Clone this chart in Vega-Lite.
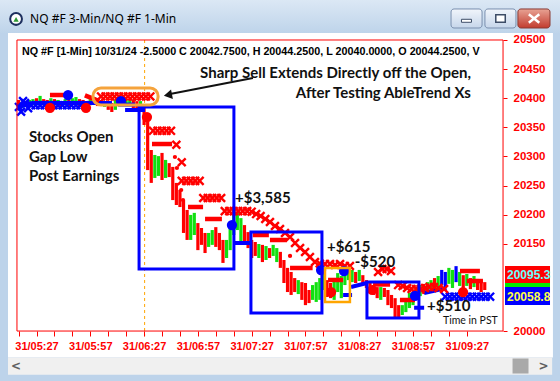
{
  "$schema": "https://vega.github.io/schema/vega-lite/v6.json",
  "width": 560,
  "height": 381,
  "autosize": {"type": "none"},
  "padding": 0,
  "background": "#bdd3ea",
  "config": {"view": {"stroke": null}},
  "datasets": {
    "bars": [
      {"t":317,"p":20397,"p2":20380,"d":"down"},{"t":319,"p":20393.5,"p2":20383,"d":"up"},{"t":321,"p":20395,"p2":20385,"d":"down"},{"t":323,"p":20397,"p2":20386.5,"d":"up"},
      {"t":325,"p":20398.5,"p2":20388,"d":"up"},{"t":327,"p":20400,"p2":20390,"d":"down"},{"t":329,"p":20404,"p2":20390,"d":"up"},{"t":331,"p":20398.5,"p2":20388,"d":"down"},
      {"t":333,"p":20397,"p2":20386.5,"d":"down"},{"t":335,"p":20400,"p2":20390,"d":"up"},{"t":337,"p":20398.5,"p2":20388,"d":"down"},{"t":339,"p":20397,"p2":20386.5,"d":"up"},
      {"t":341,"p":20395,"p2":20385,"d":"down"},{"t":343,"p":20398.5,"p2":20388,"d":"up"},{"t":345,"p":20397,"p2":20386.5,"d":"down"},{"t":347,"p":20400,"p2":20390,"d":"up"},
      {"t":349,"p":20402,"p2":20390,"d":"up"},{"t":351,"p":20398.5,"p2":20386.5,"d":"down"},{"t":353,"p":20397,"p2":20385,"d":"down"},{"t":355,"p":20395,"p2":20383,"d":"down"},
      {"t":357,"p":20398.5,"p2":20388,"d":"up"},{"t":359,"p":20402,"p2":20390,"d":"up"},{"t":361,"p":20400,"p2":20386.5,"d":"down"},{"t":363,"p":20397,"p2":20386.5,"d":"down"},
      {"t":365,"p":20395,"p2":20385,"d":"up"},{"t":367,"p":20395,"p2":20380,"d":"down"},{"t":369,"p":20391.75,"p2":20376.25,"d":"down"},{"t":371,"p":20397,"p2":20380,"d":"up"},
      {"t":373,"p":20402,"p2":20388,"d":"up"},{"t":375,"p":20400,"p2":20388,"d":"down"},{"t":377,"p":20398.5,"p2":20386.5,"d":"up"},{"t":379,"p":20397,"p2":20386.5,"d":"up"},
      {"t":381,"p":20397,"p2":20383,"d":"down"},{"t":383,"p":20395,"p2":20380,"d":"down"},{"t":385,"p":20395,"p2":20380,"d":"up"},{"t":387,"p":20386.5,"p2":20354,"d":"down"},
      {"t":389,"p":20371,"p2":20276.5,"d":"down"},{"t":391,"p":20311,"p2":20254.5,"d":"down"},{"t":393,"p":20302.5,"p2":20263,"d":"up"},{"t":395,"p":20300.5,"p2":20266.5,"d":"up"},
      {"t":397,"p":20306,"p2":20259.5,"d":"down"},{"t":399,"p":20294,"p2":20263,"d":"up"},{"t":401,"p":20288.5,"p2":20264.5,"d":"down"},{"t":403,"p":20282,"p2":20225,"d":"down"},
      {"t":405,"p":20254.5,"p2":20216.5,"d":"down"},{"t":407,"p":20242.5,"p2":20213,"d":"down"},{"t":409,"p":20225,"p2":20168.5,"d":"down"},{"t":411,"p":20208,"p2":20156.5,"d":"down"},
      {"t":413,"p":20199.5,"p2":20156.5,"d":"up"},{"t":415,"p":20203,"p2":20165,"d":"up"},{"t":417,"p":20185.5,"p2":20139,"d":"down"},{"t":419,"p":20177,"p2":20148,"d":"down"},
      {"t":421,"p":20168.5,"p2":20134,"d":"down"},{"t":423,"p":20168.5,"p2":20144.5,"d":"up"},{"t":425,"p":20173.5,"p2":20148,"d":"up"},{"t":427,"p":20178.5,"p2":20144.5,"d":"down"},
      {"t":429,"p":20168.5,"p2":20139,"d":"down"},{"t":431,"p":20156.5,"p2":20117,"d":"down"},{"t":433,"p":20156.5,"p2":20125.5,"d":"up"},{"t":435,"p":20177,"p2":20139,"d":"up"},
      {"t":437,"p":20199.5,"p2":20165,"d":"up"},{"t":439,"p":20203,"p2":20173.5,"d":"up"},{"t":441,"p":20194,"p2":20153,"d":"up"},{"t":443,"p":20182,"p2":20148,"d":"down"},
      {"t":445,"p":20170,"p2":20142.5,"d":"down"},{"t":447,"p":20156.5,"p2":20125.5,"d":"down"},{"t":449,"p":20153,"p2":20129,"d":"down"},{"t":451,"p":20149.5,"p2":20125.5,"d":"up"},
      {"t":453,"p":20148,"p2":20118.5,"d":"down"},{"t":455,"p":20146,"p2":20122,"d":"up"},{"t":457,"p":20142.5,"p2":20125.5,"d":"down"},{"t":459,"p":20148,"p2":20129,"d":"up"},
      {"t":461,"p":20142.5,"p2":20118.5,"d":"up"},{"t":463,"p":20136,"p2":20108.5,"d":"down"},{"t":465,"p":20122,"p2":20082.5,"d":"down"},{"t":467,"p":20108.5,"p2":20067,"d":"down"},
      {"t":469,"p":20101.5,"p2":20062,"d":"down"},{"t":471,"p":20091,"p2":20067,"d":"down"},{"t":473,"p":20087.5,"p2":20063.5,"d":"up"},{"t":475,"p":20084,"p2":20053.5,"d":"down"},
      {"t":477,"p":20082.5,"p2":20044.5,"d":"down"},{"t":479,"p":20070.5,"p2":20048,"d":"down"},{"t":481,"p":20079,"p2":20053.5,"d":"up"},{"t":483,"p":20084,"p2":20050,"d":"up"},
      {"t":485,"p":20091,"p2":20053.5,"d":"up"},{"t":487,"p":20099.5,"p2":20070.5,"d":"up"},{"t":489,"p":20087.5,"p2":20058.5,"d":"down"},{"t":491,"p":20082.5,"p2":20056.5,"d":"down"},
      {"t":493,"p":20091,"p2":20053.5,"d":"up"},{"t":495,"p":20099.5,"p2":20067,"d":"up"},{"t":497,"p":20094.5,"p2":20056.5,"d":"up"},{"t":499,"p":20105,"p2":20079,"d":"up"},
      {"t":501,"p":20108.5,"p2":20087.5,"d":"up"},{"t":503,"p":20105,"p2":20084,"d":"up"},{"t":505,"p":20101.5,"p2":20082.5,"d":"down"},{"t":507,"p":20105,"p2":20086,"d":"up"},
      {"t":509,"p":20096,"p2":20079,"d":"down"},{"t":511,"p":20087.5,"p2":20074,"d":"down"},{"t":513,"p":20082.5,"p2":20065.5,"d":"down"},{"t":515,"p":20079,"p2":20062,"d":"down"},
      {"t":517,"p":20075.5,"p2":20056.5,"d":"down"},{"t":519,"p":20075.5,"p2":20053.5,"d":"up"},{"t":521,"p":20074,"p2":20058.5,"d":"down"},{"t":523,"p":20070.5,"p2":20044.5,"d":"down"},
      {"t":525,"p":20062,"p2":20039.5,"d":"down"},{"t":527,"p":20056.5,"p2":20024,"d":"down"},{"t":529,"p":20044.5,"p2":20022.5,"d":"down"},{"t":531,"p":20044.5,"p2":20027.5,"d":"up"},
      {"t":533,"p":20053.5,"p2":20032.5,"d":"up"},{"t":535,"p":20065.5,"p2":20039.5,"d":"up"},{"t":537,"p":20067,"p2":20044.5,"d":"up"},{"t":539,"p":20075.5,"p2":20056.5,"d":"up"},
      {"t":541,"p":20079,"p2":20060,"d":"up"},{"t":543,"p":20081,"p2":20063.5,"d":"down"},{"t":545,"p":20084,"p2":20067,"d":"up"},{"t":547,"p":20087.5,"p2":20070.5,"d":"up"},
      {"t":549,"p":20091,"p2":20072,"d":"down"},{"t":551,"p":20094.5,"p2":20074,"d":"up"},{"t":553,"p":20105,"p2":20079,"d":"trend"},{"t":555,"p":20101.5,"p2":20075.5,"d":"trend"},
      {"t":557,"p":20108.5,"p2":20081,"d":"up"},{"t":559,"p":20105,"p2":20074,"d":"up"},{"t":561,"p":20111.5,"p2":20084,"d":"trend"},{"t":563,"p":20101.5,"p2":20077.5,"d":"up"},
      {"t":565,"p":20096,"p2":20074,"d":"down"},{"t":567,"p":20098,"p2":20077.5,"d":"up"},{"t":569,"p":20091,"p2":20072,"d":"down"},{"t":571,"p":20094.5,"p2":20075.5,"d":"up"},
      {"t":573,"p":20089.5,"p2":20070.5,"d":"down"},{"t":575,"p":20087.5,"p2":20067,"d":"down"},{"t":577,"p":20084,"p2":20070.5,"d":"down"}
    ],
    "marks": [
      {"t":363,"p":20403,"k":"sx"},{"t":365.5,"p":20403,"k":"sx"},{"t":368,"p":20403,"k":"sx"},{"t":370.5,"p":20403,"k":"sx"},{"t":373,"p":20403,"k":"sx"},{"t":375.5,"p":20403,"k":"sx"},{"t":378,"p":20403,"k":"sx"},{"t":380.5,"p":20403,"k":"sx"},{"t":383,"p":20403,"k":"sx"},{"t":385.5,"p":20403,"k":"sx"},{"t":388,"p":20403,"k":"sx"},{"t":390.5,"p":20403,"k":"sx"},
      {"t":392,"p":20344,"k":"sx"},{"t":394.5,"p":20344,"k":"sx"},{"t":397,"p":20344,"k":"sx"},{"t":399.5,"p":20344,"k":"sx"},{"t":402,"p":20344,"k":"sx"},
      {"t":405,"p":20320,"k":"sx"},{"t":408,"p":20290,"k":"sx"},
      {"t":408,"p":20258,"k":"sx"},{"t":410.5,"p":20258,"k":"sx"},{"t":413,"p":20258,"k":"sx"},{"t":415.5,"p":20258,"k":"sx"},{"t":418,"p":20258,"k":"sx"},
      {"t":420,"p":20228.5,"k":"sx"},{"t":422.5,"p":20228.5,"k":"sx"},{"t":425,"p":20228.5,"k":"sx"},{"t":427.5,"p":20228.5,"k":"sx"},{"t":430,"p":20228.5,"k":"sx"},
      {"t":432,"p":20206,"k":"sx"},{"t":434.5,"p":20206,"k":"sx"},{"t":437,"p":20206,"k":"sx"},{"t":439.5,"p":20206,"k":"sx"},{"t":442,"p":20206,"k":"sx"},{"t":444.5,"p":20206,"k":"sx"},{"t":447,"p":20205,"k":"sx"},
      {"t":449.5,"p":20201,"k":"sx"},{"t":452,"p":20197.6,"k":"sx"},{"t":454.6,"p":20192.5,"k":"sx"},{"t":457.2,"p":20187.3,"k":"sx"},{"t":460,"p":20180.4,"k":"sx"},{"t":462.8,"p":20175.3,"k":"sx"},{"t":465.6,"p":20168.4,"k":"sx"},{"t":468.4,"p":20161.6,"k":"sx"},
      {"t":471.2,"p":20151.2,"k":"sx"},{"t":474,"p":20142.6,"k":"sx"},{"t":476.8,"p":20135.8,"k":"sx"},{"t":479.5,"p":20127.2,"k":"sx"},{"t":482.3,"p":20118.6,"k":"sx"},{"t":485,"p":20116,"k":"sx"},{"t":487.9,"p":20115.2,"k":"sx"},{"t":490.7,"p":20115.2,"k":"sx"},{"t":493.5,"p":20113.4,"k":"sx"},{"t":496.3,"p":20115.2,"k":"sx"},{"t":499,"p":20111.7,"k":"sx"},{"t":501.8,"p":20111.7,"k":"sx"},
      {"t":517.5,"p":20101.4,"k":"sx"},{"t":519.9,"p":20106.6,"k":"sx"},{"t":522.3,"p":20106.6,"k":"sx"},{"t":524.7,"p":20103.1,"k":"sx"},
      {"t":528.7,"p":20079,"k":"sx"},{"t":531.2,"p":20077.4,"k":"sx"},{"t":533.7,"p":20073.9,"k":"sx"},{"t":536.2,"p":20072.2,"k":"sx"},{"t":538.7,"p":20072.2,"k":"sx"},{"t":541.2,"p":20072.2,"k":"sx"},{"t":543.7,"p":20073.9,"k":"sx"},{"t":546.2,"p":20075.6,"k":"sx"},{"t":548.7,"p":20075.6,"k":"sx"},{"t":551.2,"p":20073.9,"k":"sx"},{"t":554.3,"p":20072.2,"k":"sx"},
      {"t":317.2,"p":20385,"k":"bx"},{"t":318.4,"p":20376.7,"k":"bx"},{"t":320.6,"p":20391.7,"k":"bx"},{"t":322.3,"p":20383,"k":"bx"},{"t":319.5,"p":20395,"k":"bx"},
      {"t":324,"p":20388,"k":"bx"},{"t":326.5,"p":20388,"k":"bx"},{"t":329,"p":20388,"k":"bx"},{"t":331.5,"p":20388,"k":"bx"},{"t":334,"p":20388,"k":"bx"},{"t":336.5,"p":20388,"k":"bx"},{"t":339,"p":20388,"k":"bx"},{"t":341.5,"p":20388,"k":"bx"},{"t":344,"p":20388,"k":"bx"},{"t":346.5,"p":20388,"k":"bx"},{"t":349,"p":20388,"k":"bx"},{"t":351.5,"p":20388,"k":"bx"},{"t":354,"p":20388,"k":"bx"},
      {"t":555,"p":20059,"k":"bx"},{"t":557.5,"p":20059,"k":"bx"},{"t":560,"p":20059,"k":"bx"},{"t":562.5,"p":20059,"k":"bx"},{"t":565,"p":20059,"k":"bx"},{"t":567.5,"p":20059,"k":"bx"},{"t":570,"p":20059,"k":"bx"},{"t":572.5,"p":20059,"k":"bx"},{"t":575,"p":20059,"k":"bx"},{"t":577.5,"p":20059,"k":"bx"},{"t":580,"p":20059,"k":"bx"},
      {"t":404.2,"p":20299,"k":"sd"},{"t":405.3,"p":20280.1,"k":"sd"},{"t":407.7,"p":20242.3,"k":"sd"},{"t":408.7,"p":20225.1,"k":"sd"},{"t":468.4,"p":20129,"k":"sd"},
      {"t":334.5,"p":20383.6,"k":"S"},{"t":354.6,"p":20383.6,"k":"S"},{"t":388.6,"p":20367.7,"k":"S"},{"t":491.3,"p":20067,"k":"S"},{"t":514.2,"p":20070.5,"k":"S"},{"t":564.9,"p":20067,"k":"S"},
      {"t":344.6,"p":20405.5,"k":"B"},{"t":374.1,"p":20395.2,"k":"B"},{"t":436,"p":20182.1,"k":"B"},{"t":485.7,"p":20104.8,"k":"B"},{"t":498.5,"p":20103.1,"k":"B"},{"t":538.1,"p":20060.2,"k":"B"}
    ],
    "dashes": [
      {"t":334.5,"t2":343,"p":20405.5,"p2":20405.5,"s":"sell"},
      {"t":354,"t2":362,"p":20405,"p2":20395,"s":"sell"},
      {"t":391.4,"t2":402.6,"p":20321.3,"p2":20321.3,"s":"sell"},
      {"t":411.5,"t2":419.9,"p":20213.1,"p2":20213.1,"s":"sell"},
      {"t":421,"t2":430.4,"p":20192.5,"p2":20192.5,"s":"sell"},
      {"t":447.6,"t2":456.6,"p":20165,"p2":20165,"s":"sell"},
      {"t":457.2,"t2":466.7,"p":20156.4,"p2":20156.4,"s":"sell"},
      {"t":468.4,"t2":481,"p":20108.3,"p2":20108.3,"s":"sell"},
      {"t":489.6,"t2":498,"p":20087.7,"p2":20087.7,"s":"sell"},
      {"t":514.7,"t2":524.2,"p":20080,"p2":20080,"s":"sell"},
      {"t":529.7,"t2":538.1,"p":20053.3,"p2":20053.3,"s":"sell"},
      {"t":563.2,"t2":574.3,"p":20103.1,"p2":20103.1,"s":"sell"},
      {"t":567,"t2":576,"p":20085.9,"p2":20085.9,"s":"sell"},
      {"t":316.1,"t2":324.5,"p":20384,"p2":20392,"s":"buy"},
      {"t":326.2,"t2":369.1,"p":20391.7,"p2":20391.7,"s":"buy"},
      {"t":372.5,"t2":382,"p":20389,"p2":20389,"s":"buy"},
      {"t":376.4,"t2":387.5,"p":20379.7,"p2":20379.7,"s":"buy"},
      {"t":436.6,"t2":447.2,"p":20151.2,"p2":20151.2,"s":"buy"},
      {"t":498,"t2":503,"p":20061.9,"p2":20061.9,"s":"buy"},
      {"t":502.4,"t2":511.3,"p":20075.6,"p2":20082.5,"s":"buy"},
      {"t":537.6,"t2":543.2,"p":20040,"p2":20040,"s":"buy"},
      {"t":543.2,"t2":555.6,"p":20065.3,"p2":20073.9,"s":"buy"}
    ],
    "boxes": [
      {"t":384.2,"t2":437.1,"p":20384.9,"p2":20106.6,"s":"trade"},
      {"t":446.6,"t2":486.2,"p":20170.1,"p2":20031,"s":"trade"},
      {"t":511.3,"t2":540.3,"p":20084.2,"p2":20022.4,"s":"trade"},
      {"t":487.9,"t2":501.8,"p":20108.3,"p2":20049.9,"s":"loss"}
    ],
    "texts": [
      {"t":318.9,"p":20480.2,"text":"NQ #F [1-Min] 10/31/24  -2.5000 C 20042.7500, H 20044.2500, L 20040.0000, O 20044.2500, V","s":"hdr"},
      {"t":322.8,"p":20332.5,"text":"Stocks Open","s":"ann"},
      {"t":322.8,"p":20299,"text":"Gap Low","s":"ann"},
      {"t":322.8,"p":20265.5,"text":"Post Earnings","s":"ann"},
      {"t":437.7,"p":20228.5,"text":"+$3,585","s":"ann"},
      {"t":489,"p":20144.4,"text":"+$615","s":"ann"},
      {"t":504.5,"p":20118.6,"text":"-$520","s":"ann"},
      {"t":544.8,"p":20042.2,"text":"+$510","s":"ann"},
      {"t":553.7,"p":20017.2,"text":"Time in PST","s":"pst"}
    ]
  },
  "encoding": {
    "x": {"field": "t", "type": "quantitative",
      "scale": {"domain": [306.64, 618.97], "nice": false, "zero": false},
      "axis": {"orient": "bottom", "offset": -50,
        "values": [317,327,337,347,357,367,377,387,397,407,417,427,437,447,457,467,477,487,497,507,517,527,537,547,557,567],
        "labelExpr": "(datum.value-327)%30==0 ? '31/0'+floor(datum.value/60)+':'+(datum.value%60) : ''",
        "domain": false, "grid": false, "tickColor": "#ff0000", "tickSize": 5,
        "labelColor": "#ff0000", "labelFont": "Liberation Sans", "labelFontWeight": "bold", "labelFontSize": 11,
        "labelPadding": 4, "labelOverlap": false, "labelFlush": false, "labelBound": false, "title": null, "zindex": 2}},
    "y": {"field": "p", "type": "quantitative",
      "scale": {"domain": [19914.16, 20568.72], "nice": false, "zero": false},
      "axis": {"orient": "right", "offset": -57,
        "values": [20000,20150,20200,20250,20300,20350,20400,20450,20500], "format": "d",
        "domain": false, "grid": false, "tickColor": "#ff0000", "tickSize": 4,
        "labelColor": "#ff0000", "labelFont": "Liberation Sans", "labelFontWeight": "bold", "labelFontSize": 11.5,
        "labelPadding": 6, "labelOverlap": false, "labelFlush": false, "labelBound": false, "title": null, "zindex": 2}}
  },
  "layer": [
    {"data": {"values": [{"t": 306.64, "t2": 618.97, "p": 20512, "p2": 20570}]},
     "mark": {"type": "rect", "color": {"gradient": "linear", "x1": 0, "y1": 0, "x2": 0, "y2": 1, "stops": [{"offset": 0, "color": "#dce8f5"}, {"offset": 1, "color": "#bed4ea"}]}},
     "encoding": {"x2": {"field": "t2"}, "y2": {"field": "p2"}}},
    {"data": {"values": [{"t": 311.1, "t2": 615.05, "p": 19954.5, "p2": 20512}]},
     "mark": {"type": "rect", "color": "#ffffff"},
     "encoding": {"x2": {"field": "t2"}, "y2": {"field": "p2"}}},
    {"data": {"values": [{"t": 311.1, "t2": 614.6, "p": 19925.1, "p2": 19954.5}]},
     "mark": {"type": "rect", "color": "#f0f0f0"},
     "encoding": {"x2": {"field": "t2"}, "y2": {"field": "p2"}}},
    {"data": {"values": [{"t": 592.5, "t2": 601.4, "p": 19927, "p2": 19952.8}]},
     "mark": {"type": "rect", "color": "#a9a9a9"},
     "encoding": {"x2": {"field": "t2"}, "y2": {"field": "p2"}}},
    {"data": {"values": [{"t": 315.6, "p": 19939.9, "text": "<"}, {"t": 609.8, "p": 19939.9, "text": ">"}]},
     "mark": {"type": "text", "font": "DejaVu Sans", "fontWeight": "bold", "fontSize": 12, "color": "#606060", "align": "center", "baseline": "middle"},
     "encoding": {"text": {"field": "text"}}},
    {"data": {"values": [{"t": 558.2, "t2": 575.5, "p": 20520.6, "p2": 20553.3}, {"t": 577.1, "t2": 594.4, "p": 20520.6, "p2": 20553.3}]},
     "mark": {"type": "rect", "cornerRadius": 3, "stroke": "#7a8fae", "strokeWidth": 1, "color": {"gradient": "linear", "x1": 0, "y1": 0, "x2": 0, "y2": 1, "stops": [{"offset": 0, "color": "#f1f5fb"}, {"offset": 1, "color": "#c6d6ea"}]}},
     "encoding": {"x2": {"field": "t2"}, "y2": {"field": "p2"}}},
    {"data": {"values": [{"t": 595.5, "t2": 613.4, "p": 20520.6, "p2": 20553.3}]},
     "mark": {"type": "rect", "cornerRadius": 3, "stroke": "#8a3a33", "strokeWidth": 1, "color": {"gradient": "linear", "x1": 0, "y1": 0, "x2": 0, "y2": 1, "stops": [{"offset": 0, "color": "#e8a394"}, {"offset": 1, "color": "#c23b2e"}]}},
     "encoding": {"x2": {"field": "t2"}, "y2": {"field": "p2"}}},
    {"data": {"values": [{"t": 566.8, "p": 20533}]},
     "mark": {"type": "point", "shape": "M-1,-0.3L1,-0.3L1,0.3L-1,0.3Z", "filled": true, "fill": "#ffffff", "stroke": "#3c4c66", "strokeWidth": 1, "size": 100, "opacity": 1}},
    {"data": {"values": [{"t": 585.8, "p": 20537}]},
     "mark": {"type": "point", "shape": "M-1,-0.8L1,-0.8L1,0.8L-1,0.8Z", "filled": true, "fill": "#ffffff", "stroke": "#3c4c66", "strokeWidth": 1.5, "size": 90, "opacity": 1}},
    {"data": {"values": [{"t": 604.5, "p": 20537}]},
     "mark": {"type": "point", "shape": "M-1,-0.8L1,0.8M-1,0.8L1,-0.8", "filled": false, "color": "#ffffff", "strokeWidth": 2.5, "size": 110, "opacity": 1}},
    {"data": {"values": [{"t": 315.6, "p": 20536.1}]},
     "mark": {"type": "circle", "color": "#1d2f5e", "size": 190, "opacity": 1}},
    {"data": {"values": [{"t": 315.6, "p": 20536.1}]},
     "mark": {"type": "circle", "color": "#ffffff", "size": 95, "opacity": 1}},
    {"data": {"values": [{"t": 315.6, "p": 20535.5}]},
     "mark": {"type": "point", "shape": "triangle-up", "filled": true, "color": "#2f9a35", "size": 28, "opacity": 1}},
    {"data": {"values": [{"t": 323.4, "p": 20536.1, "text": "NQ #F 3-Min/NQ #F 1-Min"}]},
     "mark": {"type": "text", "font": "Noto Sans", "fontSize": 12, "color": "#000000", "align": "left", "baseline": "middle"},
     "encoding": {"text": {"field": "text"}}},
    {"data": {"values": [{"t": 387.3, "p": 20500, "p2": 19991}]},
     "mark": {"type": "rule", "color": "#ffa500", "strokeWidth": 1, "strokeDash": [3, 3]},
     "encoding": {"y2": {"field": "p2"}}},
    {"data": {"name": "bars"}, "transform": [{"filter": "datum.d=='down'"}],
     "mark": {"type": "rule", "color": "#ff0000", "strokeWidth": 3.2},
     "encoding": {"y2": {"field": "p2"}}},
    {"data": {"name": "bars"}, "transform": [{"filter": "datum.d=='up'"}],
     "mark": {"type": "rule", "color": "#11e011", "strokeWidth": 3.2},
     "encoding": {"y2": {"field": "p2"}}},
    {"data": {"name": "bars"}, "transform": [{"filter": "datum.d=='trend'"}],
     "mark": {"type": "rule", "color": "#0000ff", "strokeWidth": 3.2},
     "encoding": {"y2": {"field": "p2"}}},
    {"data": {"name": "dashes"}, "transform": [{"filter": "datum.s=='buy'"}],
     "mark": {"type": "rule", "color": "#0000ff", "strokeWidth": 4},
     "encoding": {"x2": {"field": "t2"}, "y2": {"field": "p2"}}},
    {"data": {"name": "dashes"}, "transform": [{"filter": "datum.s=='sell'"}],
     "mark": {"type": "rule", "color": "#ff0000", "strokeWidth": 4.5},
     "encoding": {"x2": {"field": "t2"}, "y2": {"field": "p2"}}},
    {"data": {"name": "marks"}, "transform": [{"filter": "datum.k=='bx'"}],
     "mark": {"type": "point", "shape": "M-1,-1L1,1M-1,1L1,-1", "filled": false, "color": "#0000ff", "strokeWidth": 2.4, "size": 62, "opacity": 1}},
    {"data": {"name": "marks"}, "transform": [{"filter": "datum.k=='sx'"}],
     "mark": {"type": "point", "shape": "M-1,-1L1,1M-1,1L1,-1", "filled": false, "color": "#ff0000", "strokeWidth": 2.4, "size": 62, "opacity": 1}},
    {"data": {"name": "marks"}, "transform": [{"filter": "datum.k=='sd'"}],
     "mark": {"type": "circle", "color": "#ff0000", "size": 18, "opacity": 1}},
    {"data": {"name": "marks"}, "transform": [{"filter": "datum.k=='S'"}],
     "mark": {"type": "circle", "color": "#ff0000", "size": 105, "opacity": 1}},
    {"data": {"name": "marks"}, "transform": [{"filter": "datum.k=='B'"}],
     "mark": {"type": "circle", "color": "#0000ff", "size": 105, "opacity": 1}},
    {"data": {"name": "boxes"}, "transform": [{"filter": "datum.s=='trade'"}],
     "mark": {"type": "rect", "fill": null, "fillOpacity": 0, "stroke": "#0000ff", "strokeWidth": 3},
     "encoding": {"x2": {"field": "t2"}, "y2": {"field": "p2"}}},
    {"data": {"name": "boxes"}, "transform": [{"filter": "datum.s=='loss'"}],
     "mark": {"type": "rect", "fill": null, "fillOpacity": 0, "stroke": "#ffa500", "strokeWidth": 2.5},
     "encoding": {"x2": {"field": "t2"}, "y2": {"field": "p2"}}},
    {"data": {"values": [{"t": 358.5, "t2": 394.8, "p": 20388.3, "p2": 20417.5}]},
     "mark": {"type": "rect", "fill": null, "fillOpacity": 0, "stroke": "#f5a33c", "strokeWidth": 3, "cornerRadius": 8},
     "encoding": {"x2": {"field": "t2"}, "y2": {"field": "p2"}}},
    {"data": {"values": [{"t": 316.1, "t2": 587.2, "p": 20000, "p2": 20500}]},
     "mark": {"type": "rect", "fill": null, "fillOpacity": 0, "stroke": "#ff0000", "strokeWidth": 1},
     "encoding": {"x2": {"field": "t2"}, "y2": {"field": "p2"}}},
    {"data": {"name": "texts"}, "transform": [{"filter": "datum.s=='hdr'"}],
     "mark": {"type": "text", "font": "Liberation Sans", "fontWeight": "bold", "fontSize": 10.75, "color": "#000000", "align": "left", "baseline": "middle"},
     "encoding": {"text": {"field": "text"}}},
    {"data": {"name": "texts"}, "transform": [{"filter": "datum.s=='ann'"}],
     "mark": {"type": "text", "font": "Lato", "fontWeight": "bold", "fontSize": 15, "color": "#111111", "align": "left", "baseline": "middle"},
     "encoding": {"text": {"field": "text"}}},
    {"data": {"name": "texts"}, "transform": [{"filter": "datum.s=='pst'"}],
     "mark": {"type": "text", "font": "Lato", "fontSize": 10.5, "color": "#111111", "align": "left", "baseline": "middle"},
     "encoding": {"text": {"field": "text"}}},
    {"data": {"values": [{"t": 569.3, "p": 20443.3, "text": "Sharp Sell Extends Directly off the Open,"}, {"t": 569.3, "p": 20409.8, "text": "After Testing AbleTrend Xs"}]},
     "mark": {"type": "text", "font": "Lato", "fontWeight": "bold", "fontSize": 15, "color": "#111111", "align": "right", "baseline": "middle"},
     "encoding": {"text": {"field": "text"}}},
    {"data": {"values": [{"t": 447.7, "t2": 401.5, "p": 20434.7, "p2": 20407.2}]},
     "mark": {"type": "rule", "color": "#111111", "strokeWidth": 2},
     "encoding": {"x2": {"field": "t2"}, "y2": {"field": "p2"}}},
    {"data": {"values": [{"t": 400.3, "p": 20405.5}]},
     "mark": {"type": "point", "shape": "triangle-left", "filled": true, "color": "#111111", "size": 90, "angle": 349, "opacity": 1}},
    {"data": {"values": [{"t": 588.3, "t2": 613.4, "p": 20082.5, "p2": 20111.7}]},
     "mark": {"type": "rect", "color": "#ff0000"},
     "encoding": {"x2": {"field": "t2"}, "y2": {"field": "p2"}}},
    {"data": {"values": [{"t": 588.3, "t2": 613.4, "p": 20075.6, "p2": 20082.5}]},
     "mark": {"type": "rect", "color": "#00ee00"},
     "encoding": {"x2": {"field": "t2"}, "y2": {"field": "p2"}}},
    {"data": {"values": [{"t": 588.3, "t2": 613.4, "p": 20044.7, "p2": 20075.6}]},
     "mark": {"type": "rect", "color": "#0000ff"},
     "encoding": {"x2": {"field": "t2"}, "y2": {"field": "p2"}}},
    {"data": {"values": [{"t": 589.4, "p": 20097.1, "text": "20095.3"}]},
     "mark": {"type": "text", "font": "Liberation Sans", "fontWeight": "bold", "fontSize": 12, "color": "#66ffff", "align": "left", "baseline": "middle"},
     "encoding": {"text": {"field": "text"}}},
    {"data": {"values": [{"t": 589.4, "p": 20058.2, "text": "20058.8"}]},
     "mark": {"type": "text", "font": "Liberation Sans", "fontWeight": "bold", "fontSize": 12, "color": "#ffff44", "align": "left", "baseline": "middle"},
     "encoding": {"text": {"field": "text"}}},
    {"data": {"values": [{"t": 615.05, "t2": 618.97, "p": 19914.16, "p2": 20512}]},
     "mark": {"type": "rect", "color": "#bdd3ea"},
     "encoding": {"x2": {"field": "t2"}, "y2": {"field": "p2"}}}
  ]
}
